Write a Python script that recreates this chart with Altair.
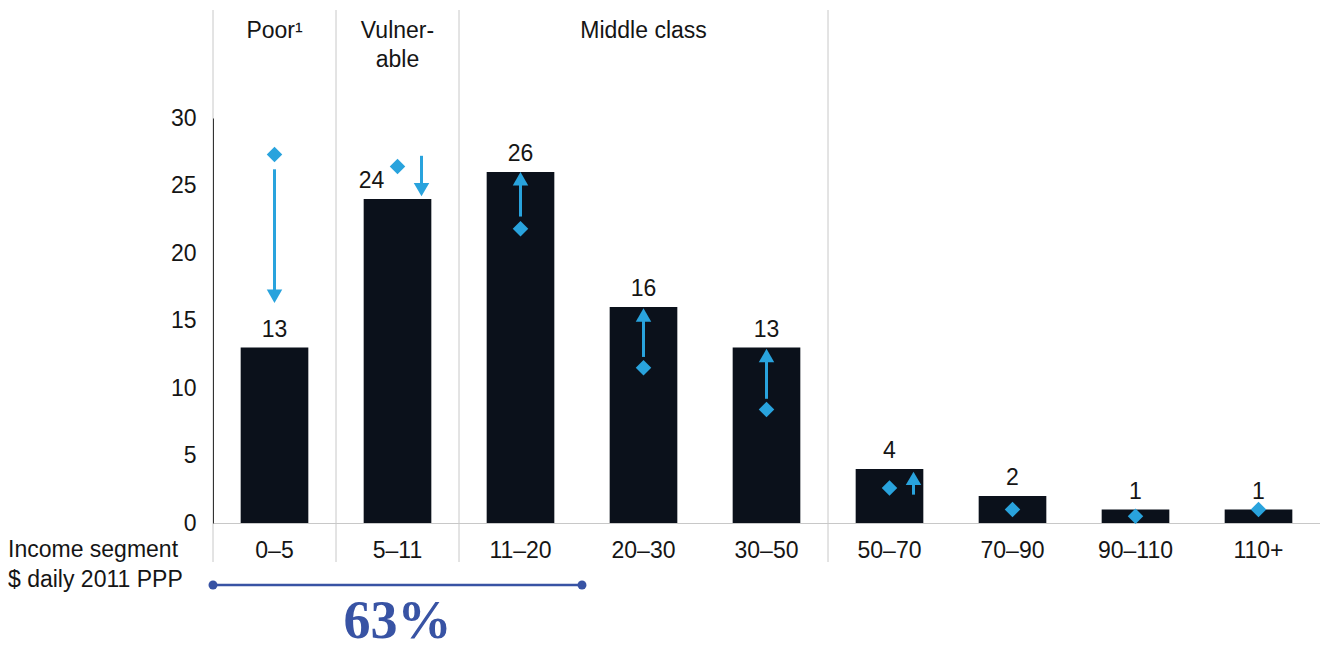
import json
import altair as alt
import pandas as pd

# ---- data -------------------------------------------------------------
segments = ["0–5", "5–11", "11–20", "20–30", "30–50", "50–70", "70–90", "90–110", "110+"]
share = [13, 24, 26, 16, 13, 4, 2, 1, 1]
earlier = [27.3, 26.4, 21.8, 11.5, 8.4, 2.6, 1.0, 0.5, 1.0]
arrow_from = [26.2, 27.2, 22.7, 12.3, 9.2, 2.1, None, None, None]
arrow_to = [16.3, 24.2, 26.0, 15.9, 12.9, 3.8, None, None, None]
arrow_beside = ["5–11", "50–70"]      # arrows drawn next to the diamond
label_beside = ["5–11"]               # value label moved left of the arrow

groups = ["Poor¹", "Vulner-\nable", "Middle class"]
group_start = [0, 1, 2]
group_end = [1, 2, 5]
bracket_segments = 3
yticks = [0, 5, 10, 15, 20, 25, 30]
income_label = "Income segment\n$ daily 2011 PPP"

# ---- styles -----------------------------------------------------------
FONT = "Liberation Sans"
BAR = "#0b111b"
BLUE = "#29a3dd"
NAVY = "#3853a4"
GRID = "#c8c8c8"
TXT = "#151515"
FS = 23

df = pd.DataFrame({"seg": segments, "share": share, "earlier": earlier,
                   "a0": arrow_from, "a1": arrow_to})

xscale = alt.Scale(domain=segments, paddingInner=0.45, paddingOuter=0.225)
qscale = alt.Scale(domain=[0, len(segments)], nice=False, zero=False)
yscale = alt.Scale(domain=[0, 30], nice=False)
yaxis = alt.Axis(values=yticks, title=None, grid=False, ticks=False, domainColor="#333333",
                 domainWidth=1, labelPadding=17, labelFontSize=FS, labelFont=FONT,
                 labelColor=TXT, zindex=1)


def xb(axis=None):
    return alt.X("seg:N", sort=segments, scale=xscale, axis=axis, title=None)


def xq(field):
    return alt.X(f"{field}:Q", scale=qscale, axis=None, title=None)


# separators
sep_df = pd.DataFrame({"pos": group_start + [group_end[-1]]})
separators = alt.Chart(sep_df).mark_rule(color=GRID, strokeWidth=1).encode(
    x=xq("pos"), y=alt.value(-108), y2=alt.value(444))

# bars
bars = alt.Chart(df).mark_bar(color=BAR).encode(
    x=xb(alt.Axis(title=None, labelAngle=0, ticks=False, domainColor=GRID, domainWidth=1,
                  labelFontSize=FS, labelFont=FONT, labelColor=TXT, labelPadding=34,
                  labelBaseline="alphabetic")),
    y=alt.Y("share:Q", scale=yscale, axis=yaxis),
)

# value labels
beside_js = json.dumps(label_beside)
labels_std = alt.Chart(df).transform_filter(f"indexof({beside_js}, datum.seg) < 0").mark_text(
    dy=-11, baseline="alphabetic", fontSize=FS, font=FONT, color=TXT).encode(
    x=xb(), y=alt.Y("share:Q", scale=yscale, axis=yaxis), text="share:Q")
labels_side = alt.Chart(df).transform_filter(f"indexof({beside_js}, datum.seg) >= 0").mark_text(
    dy=-11, dx=-26, baseline="alphabetic", fontSize=FS, font=FONT, color=TXT).encode(
    x=xb(), y=alt.Y("share:Q", scale=yscale, axis=yaxis), text="share:Q")

# diamonds
diamonds = alt.Chart(df).mark_point(shape="diamond", filled=True, size=240, color=BLUE,
                                    opacity=1).encode(
    x=xb(), y=alt.Y("earlier:Q", scale=yscale, axis=yaxis))

# arrows
arrow_js = json.dumps(arrow_beside)
arrow_layers = []
for down in (True, False):
    for side in (True, False):
        cond = (f"isValid(datum.a0) && ((datum.a1 < datum.a0) == {str(down).lower()}) && "
                f"((indexof({arrow_js}, datum.seg) >= 0) == {str(side).lower()})")
        base = alt.Chart(df).transform_filter(cond)
        off = 24 if side else 0
        shaft = base.mark_rule(color=BLUE, strokeWidth=3, xOffset=off,
                               y2Offset=(-8 if down else 8)).encode(
            x=xb(), y=alt.Y("a0:Q", scale=yscale, axis=yaxis), y2="a1:Q")
        head = base.mark_point(shape="triangle-down" if down else "triangle-up", filled=True,
                               size=240, color=BLUE, opacity=1, xOffset=off,
                               yOffset=(-6.7 if down else 6.7)).encode(
            x=xb(), y=alt.Y("a1:Q", scale=yscale, axis=yaxis))
        arrow_layers += [shaft, head]

# group titles
gdf = pd.DataFrame({"name": groups,
                    "mid": [(a + b) / 2 for a, b in zip(group_start, group_end)]})
group_text = alt.Chart(gdf).mark_text(lineBreak="\n", lineHeight=29, baseline="alphabetic",
                                      fontSize=FS, font=FONT, color=TXT).encode(
    x=xq("mid"), y=alt.value(-80), text="name:N")

# bracket + 63%
bdf = pd.DataFrame({"pos": [0, bracket_segments]})
bracket = alt.Chart(bdf).mark_line(color=NAVY, strokeWidth=2.5).encode(
    x=xq("pos"), y=alt.value(467))
bracket_dots = alt.Chart(bdf).mark_circle(color=NAVY, size=80, opacity=1).encode(
    x=xq("pos"), y=alt.value(467))
tdf = pd.DataFrame({"pos": [bracket_segments / 2],
                    "txt": [f"{sum(share[:bracket_segments])}%"]})
pct = alt.Chart(tdf).mark_text(font="Liberation Serif", fontWeight="bold", fontSize=54,
                               color=NAVY, baseline="alphabetic").encode(
    x=xq("pos"), y=alt.value(520), text="txt:N")

# income segment label
idf = pd.DataFrame({"t": [income_label]})
income = alt.Chart(idf).mark_text(lineBreak="\n", lineHeight=30, align="left",
                                  baseline="alphabetic", fontSize=FS, font=FONT,
                                  color=TXT).encode(
    x=alt.value(-205), y=alt.value(439), text="t:N")

chart = alt.layer(
    separators, bars, labels_std, labels_side, diamonds, *arrow_layers,
    group_text, bracket, bracket_dots, pct, income,
).resolve_scale(x="independent").properties(
    width=1107, height=405,
    background="white",
    autosize=alt.AutoSizeParams(type="none"),
    padding={"left": 205, "top": 110, "right": 0, "bottom": 128},
).configure_view(stroke=None)

chart.save("out.html", embed_options={"renderer": "svg", "actions": False})
